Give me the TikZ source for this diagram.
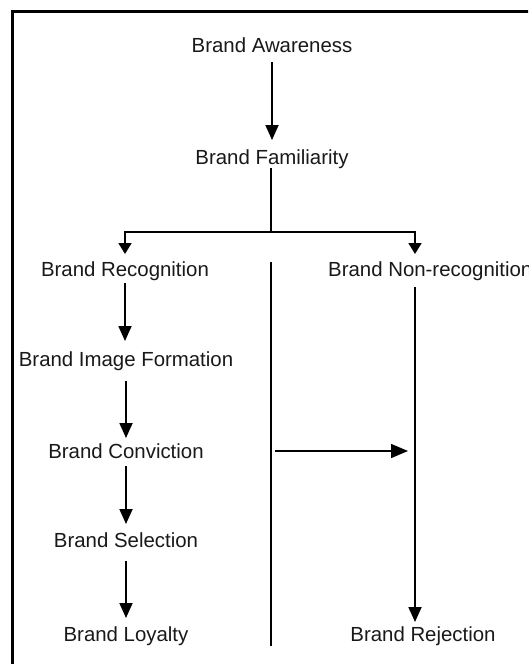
\documentclass[tikz,border=0pt]{standalone}
\usepackage{fontspec}
\setmainfont{Liberation Sans}
\usetikzlibrary{arrows.meta}
\begin{document}
\begin{tikzpicture}[x=1pt,y=-1pt,
  lbl/.style={inner sep=0pt,text height=15pt,text depth=0pt,font=\fontsize{20.4}{24}\selectfont,text=black!90},
  link/.style={line width=1.8pt},
  arr/.style={link,-{Triangle[length=15pt,width=13pt]}},
  tarr/.style={link,-{Triangle[length=11pt,width=13pt]}}]
\useasboundingbox (0,0) rectangle (528,664);
\clip (0,0) rectangle (528,664);
\fill[white] (0,0) rectangle (528,664);
% outer frame (only its top and left sides fall inside the page)
\draw[line width=2.8pt] (12.5,11.5) rectangle (560,700);

% stages
\node[lbl] (aw)  at (272,45)  {Brand Awareness};
\node[lbl] (fam) at (272,157) {Brand Familiarity};
\node[lbl] (rec) at (125,269) {Brand Recognition};
\node[lbl,anchor=west] (non) at (328,269) {Brand Non-recognition};
\node[lbl] (img) at (126,359) {Brand Image Formation};
\node[lbl] (con) at (126,451) {Brand Conviction};
\node[lbl] (sel) at (126,540) {Brand Selection};
\node[lbl] (loy) at (126,634) {Brand Loyalty};
\node[lbl] (rej) at (423,634) {Brand Rejection};

% helper points
\coordinate (split) at (271,232);
\coordinate (rc) at (415,269);
\coordinate (mt) at (271,262);
\coordinate (mb) at (271,646);

% top chain
\draw[arr,shorten <=17pt,shorten >=17pt] (aw.center) -- (fam.center);
\draw[link,shorten <=11pt] (fam.center -| split) -- (split);

% branch into recognition / non-recognition
\draw[tarr,shorten >=15pt] (split) -| (rec.center);
\draw[tarr,shorten >=15pt] (split) -| (rc);

% recognition path
\draw[arr,shorten <=14pt,shorten >=18pt] (rec.center) -- (img.center -| rec);
\draw[arr,shorten <=22pt,shorten >=13pt] (img.center) -- (con.center);
\draw[arr,shorten <=15pt,shorten >=16pt] (con.center) -- (sel.center);
\draw[arr,shorten <=21pt,shorten >=16pt] (sel.center) -- (loy.center);

% dividing line
\draw[line width=1.5pt] (mt) -- (mb);

% non-recognition path
\draw[arr,shorten <=18pt,shorten >=12pt] (rc) -- (rc |- rej.center);
\draw[line width=1.5pt,-{Triangle[length=17pt,width=14pt]},shorten <=4pt,shorten >=7pt]
  (mt |- con.center) -- (rc |- con.center);
\end{tikzpicture}
\end{document}
